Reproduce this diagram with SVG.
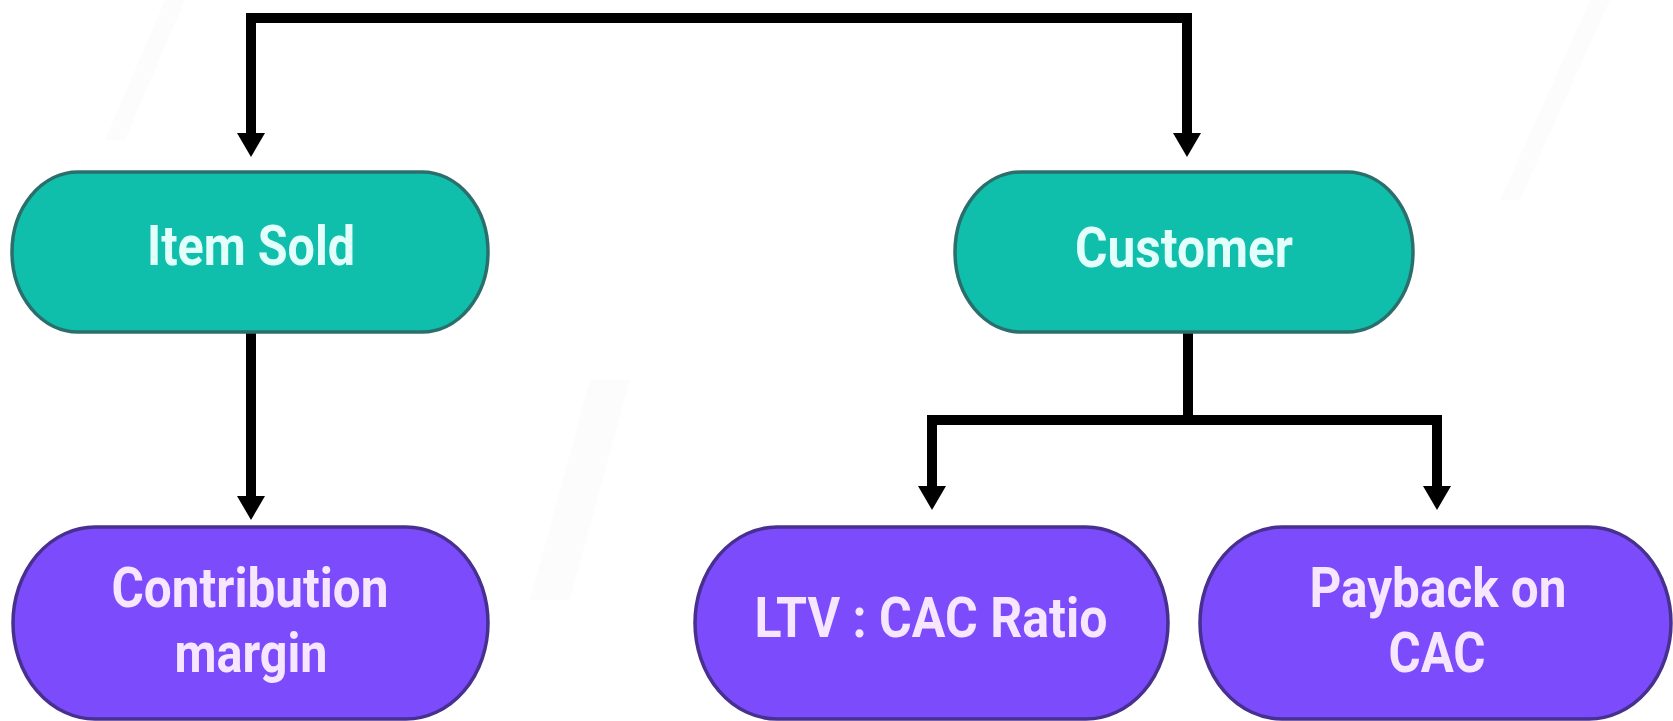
<svg xmlns="http://www.w3.org/2000/svg" width="1673" height="721" viewBox="0 0 1673 721">
<defs>
<style>
.teal{fill:#10bfab;stroke:#2b6f6c;stroke-width:3.5}
.purple{fill:#7c4bfb;stroke:#47308f;stroke-width:3.5}
.conn{fill:none;stroke:#000;stroke-width:10;stroke-linejoin:miter;stroke-linecap:butt}
.lbl{font-family:Roboto,"Liberation Sans",sans-serif;font-weight:bold;font-size:56px;text-anchor:middle}
.lt{fill:#e2fffb}
.lp{fill:#f6e6ff}
.bg{fill:#f5f5f5;opacity:0.35}
</style>
<marker id="arr" viewBox="0 -14 24 28" markerWidth="24" markerHeight="28" refX="0" refY="0" orient="auto" markerUnits="userSpaceOnUse">
<path d="M0,-14 L24,0 L0,14 Z" fill="#000"/>
</marker>
</defs>
<rect width="1673" height="721" fill="#ffffff"/>
<g id="background">
<polygon class="bg" points="165,0 185,0 125,140 105,140"/>
<polygon class="bg" points="1590,0 1610,0 1520,200 1500,200"/>
<polygon class="bg" points="590,380 630,380 570,600 530,600"/>
</g>
<g id="connectors">
<path class="conn" d="M719,18 H251 V133" marker-end="url(#arr)"/>
<path class="conn" d="M719,18 H1187 V133" marker-end="url(#arr)"/>
<path class="conn" d="M251,332 V496" marker-end="url(#arr)"/>
<path class="conn" d="M1188,332 V420 H932 V486" marker-end="url(#arr)"/>
<path class="conn" d="M1188,332 V420 H1437 V486" marker-end="url(#arr)"/>
</g>
<g id="item-sold">
<rect class="teal" x="12" y="172" width="476" height="160" rx="66" ry="80"/>
<text class="lbl lt" x="251" y="265" textLength="208" lengthAdjust="spacingAndGlyphs">Item Sold</text>
</g>
<g id="customer">
<rect class="teal" x="955" y="172" width="458" height="160" rx="66" ry="80"/>
<text class="lbl lt" x="1184" y="267" textLength="218" lengthAdjust="spacingAndGlyphs">Customer</text>
</g>
<g id="contribution-margin">
<rect class="purple" x="13" y="527" width="475" height="192" rx="82" ry="96"/>
<text class="lbl lp" x="250" y="607" textLength="277" lengthAdjust="spacingAndGlyphs">Contribution</text>
<text class="lbl lp" x="251" y="672" textLength="153" lengthAdjust="spacingAndGlyphs">margin</text>
</g>
<g id="ltv-cac">
<rect class="purple" x="695" y="527" width="473" height="192" rx="82" ry="96"/>
<text class="lbl lp" x="931" y="637" textLength="353" lengthAdjust="spacingAndGlyphs">LTV : CAC Ratio</text>
</g>
<g id="payback-cac">
<rect class="purple" x="1200" y="527" width="471" height="192" rx="82" ry="96"/>
<text class="lbl lp" x="1438" y="607" textLength="257" lengthAdjust="spacingAndGlyphs">Payback on</text>
<text class="lbl lp" x="1437" y="672" textLength="97" lengthAdjust="spacingAndGlyphs">CAC</text>
</g>
</svg>
